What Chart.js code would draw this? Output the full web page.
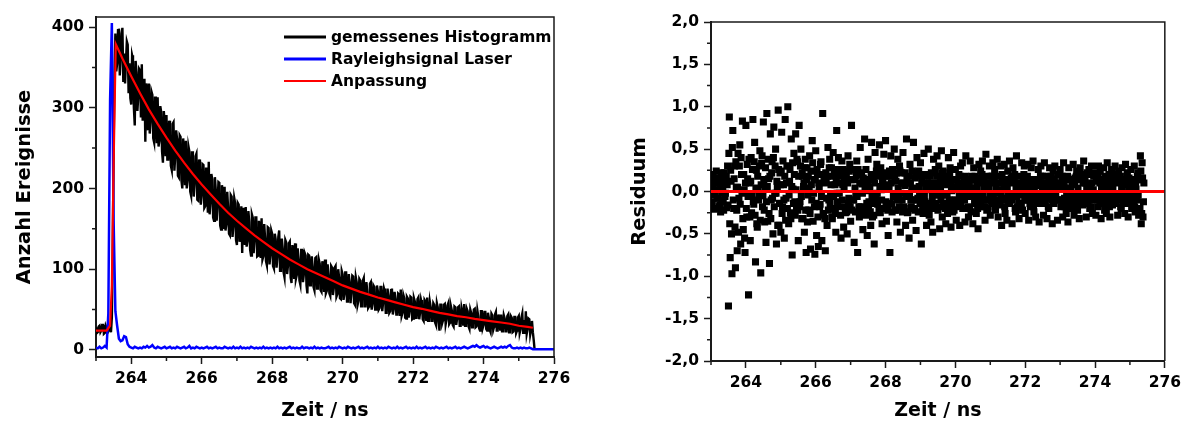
<!DOCTYPE html>
<html lang="de">
<head>
<meta charset="utf-8">
<title>Histogramm und Residuum</title>
<script src="https://cdn.jsdelivr.net/npm/chart.js@4.4.1/dist/chart.umd.min.js"></script>
<style>
  html, body { margin: 0; padding: 0; background: #fff; }
  .wrap { position: absolute; top: 0; height: 426px; }
  #left { left: 0; width: 600px; }
  #right { left: 600px; width: 587px; }
</style>
</head>
<body>
<div class="wrap" id="left"><canvas id="hist"></canvas></div>
<div class="wrap" id="right"><canvas id="resid"></canvas></div>
<script>
/* Fluoreszenz-Abklingkurve (links) und Residuen der Anpassung (rechts). */

// ── data ────────────────────────────────────────────────────────────────
// histogram channels are 25 ps wide; even and odd channels are kept apart
const histStep = 0.05;
const histEvenStart = 263.0;
const histEven = [
  28, 22, 30, 24, 31, 21, 27, 23, 29, 40, 250, 392,
  355, 398, 362, 399, 367, 330, 378, 355, 304, 360, 278, 344, 314, 346, 354, 295, 258, 322, 330, 284, 316, 257, 289, 313, 259, 295, 232, 280, 291,
  236, 267, 223, 282, 241, 262, 214, 264, 200, 240, 259, 210, 246, 191, 232, 207, 243, 185, 228, 191,
  229, 178, 206, 233, 183, 211, 160, 198, 179, 207, 149, 195, 202, 156, 176, 142, 190, 154, 182, 130,
  180, 148, 120, 169, 177, 135, 159, 117, 164, 136, 164, 117, 147, 163, 116, 138, 105, 151, 118, 144,
  101, 137, 116, 148, 99, 126, 90, 133, 105, 134, 83, 120, 132, 93, 112, 81, 124, 94, 117, 70,
  117, 88, 103, 74, 115, 90, 107, 72, 101, 112, 73, 92, 67, 102, 77, 104, 69, 90, 63, 94,
  69, 96, 62, 83, 72, 91, 56, 84, 61, 86, 65, 89, 54, 73, 54, 84, 57, 78, 50, 73,
  52, 78, 59, 72, 46, 67, 48, 76, 51, 63, 44, 69, 75, 46, 64, 39, 64, 48, 65, 39,
  60, 40, 65, 47, 57, 36, 60, 65, 39, 53, 36, 56, 31, 53, 24, 56, 37, 57, 38, 58,
  34, 49, 29, 53, 39, 54, 30, 46, 57, 31, 48, 26, 46, 31, 51, 29, 42, 24, 48, 31,
  47, 24, 40, 22, 43, 29, 47, 24, 36, 44, 25, 39, 23, 44, 28, 40, 23, 41, 24, 42,
  26, 45, 37, 48, 26, 38, 25, 22, 0
];
const histOddStart = 263.025;
const histOdd = [
  21, 29, 22, 31, 20, 30, 21, 28, 22, 120, 340,
  345, 396, 340, 392, 332, 330, 382, 318, 312, 365, 300, 358, 296, 348, 288, 284, 336, 330, 272,
  268, 320, 262, 314, 256, 252, 302, 246, 296, 240,
  236, 284, 228, 280, 222, 272, 216, 266, 210, 262, 204, 200, 252, 196, 246, 190, 240, 186, 236, 180,
  230, 176, 226, 170, 168, 218, 164, 214, 160, 208, 154, 204, 150, 148, 196, 144, 192, 140, 188, 136,
  182, 134, 178, 176, 130, 128, 172, 124, 168, 120, 164, 116, 160, 114, 112, 156, 110, 152, 106, 148,
  104, 144, 102, 140, 98, 138, 96, 136, 94, 132, 90, 130, 88, 88, 126, 86, 124, 84, 120, 80,
  118, 80, 116, 78, 114, 76, 112, 74, 110, 72, 70, 106, 70, 104, 68, 102, 66, 100, 64, 98,
  62, 96, 60, 94, 58, 92, 58, 90, 56, 88, 54, 86, 54, 84, 52, 82, 50, 80, 50, 80,
  50, 78, 48, 76, 46, 76, 46, 74, 44, 72, 44, 70, 42, 42, 68, 40, 66, 40, 66, 38,
  64, 40, 63, 38, 62, 38, 62, 36, 36, 60, 36, 58, 34, 58, 34, 56, 33, 56, 32, 55,
  32, 54, 31, 54, 31, 53, 30, 52, 30, 30, 51, 29, 50, 28, 50, 28, 49, 27, 48, 27,
  47, 26, 46, 25, 45, 25, 44, 24, 44, 24, 23, 43, 23, 42, 22, 42, 22, 41, 21, 40,
  21, 40, 20, 20, 20, 39, 19, 36, 12
];

const laserStart = 263.0;
const laserStep = 0.05;
const laserCounts = [
  3, 2, 4, 2, 3, 5, 3, 45, 310, 405, 160, 48, 30, 14, 11, 12, 17, 16, 7, 4,
  3, 2, 4, 3, 2, 3, 2, 4, 3, 5, 3, 4, 6, 3, 2, 4, 3, 2, 3, 4,
  2, 3, 4, 2, 3, 2, 4, 3, 2, 3, 4, 2, 3, 5, 2, 3, 2, 4, 3, 2,
  3, 2, 3, 4, 2, 3, 2, 3, 4, 2, 3, 2, 2, 4, 3, 2, 3, 2, 4, 2,
  3, 2, 4, 2, 3, 2, 3, 2, 4, 3, 2, 3, 2, 3, 2, 4, 2, 3, 2, 3,
  2, 3, 2, 4, 2, 3, 2, 3, 2, 3, 4, 2, 3, 2, 3, 2, 2, 4, 2, 3,
  3, 2, 3, 2, 4, 2, 3, 2, 3, 2, 2, 3, 4, 2, 3, 2, 3, 2, 4, 3,
  2, 3, 2, 4, 3, 2, 3, 2, 3, 4, 2, 3, 2, 3, 4, 2, 3, 2, 3, 2,
  4, 2, 3, 2, 3, 2, 4, 3, 2, 3, 2, 4, 2, 3, 2, 3, 4, 2, 3, 2,
  3, 2, 4, 2, 3, 2, 3, 4, 2, 3, 2, 3, 2, 4, 3, 2, 3, 2, 3, 4,
  2, 3, 2, 3, 4, 2, 3, 2, 3, 4, 3, 2, 3, 4, 5, 4, 6, 4, 3, 4,
  5, 3, 4, 3, 2, 3, 4, 3, 2, 3, 4, 3, 4, 3, 5, 6, 3, 2, 2, 3,
  2, 3, 2, 3, 2, 2, 3, 2, 1, 1, 1, 1, 1, 1, 1, 1, 1, 1, 1, 1,
  1
];

const fitTime = [
  263.0, 263.3, 263.4, 263.45, 263.5, 263.56, 263.75,
  264.0, 264.25, 264.5, 264.75, 265.0, 265.25, 265.5, 265.75, 266.0, 266.25, 266.5, 266.75,
  267.0, 267.25, 267.5, 267.75, 268.0, 268.25, 268.5, 268.75, 269.0, 269.25, 269.5, 269.75,
  270.0, 270.25, 270.5, 270.75, 271.0, 271.25, 271.5, 271.75, 272.0, 272.25, 272.5, 272.75,
  273.0, 273.25, 273.5, 273.75, 274.0, 274.25, 274.5, 274.75, 275.0, 275.25, 275.4
];
const fitValues = [
  24, 24, 30, 80, 230, 379, 361,
  339, 318, 298, 280, 263, 247, 232, 218, 205, 193, 181, 170,
  160, 151, 142, 134, 126, 119, 112, 106, 100, 95, 90, 85,
  80, 76, 72, 68.5, 65, 62, 59, 56, 53, 51, 48.5, 46,
  44, 42, 40.5, 38.5, 37, 35.5, 34, 32.5, 30, 28.5, 27.5
];

// residuals, same channel split
const residStep = 0.025;
const residEvenStart = 263.0;
const residEven = [
  -0.12, 0.18, 0.05, -0.21, 0.10, -0.03, 0.24, -0.08, 0.02, 0.15, -0.16, -0.24, 0.07, -0.01, -0.11, 0.22, -0.06, 0.12, -0.19, 0.30,
  -1.35, 0.88, -0.78, 0.12, -0.97, 0.72, -0.20, 0.30, -0.90, 0.05, -0.70, 0.45, -0.08, 0.55, -0.62, 0.20, 0.83, -0.45, 0.02, -0.72,
  0.78, -0.30, 0.15, -1.22, 0.10, -0.58, 0.40, -0.05, 0.85, -0.15, 0.58, -0.83, 0.25, -0.42, 0.02, -0.05, 0.48, -0.96, 0.33, -0.18,
  0.82, -0.22, 0.04, -0.60, 0.92, -0.35, 0.15, -0.85, 0.68, -0.10, 0.35, -0.50, 0.76, -0.02, 0.50, -0.62, 0.05, 0.96, -0.40, 0.22,
  -0.48, 0.70, -0.18, 0.08, -0.55, 0.85, -0.08, 0.30, 1.00, -0.38, 0.12, -0.25, 0.62, -0.75, 0.03, 0.45, -0.12, 0.68, -0.20, 0.35,
  -0.58, 0.78, -0.12, 0.50, -0.32, 0.18, 0.06, -0.48, 0.38, -0.72, 0.28, -0.04, -0.22, 0.42, -0.68, 0.08, 0.60, -0.35, 0.14, -0.74,
  0.48, -0.52, 0.20, -0.65, 0.03, -0.15, 0.35, -0.58, 0.92, -0.28, 0.10, -0.70, 0.15, -0.40, 0.52, -0.10, 0.38, -0.06, 0.28, -0.32,
  0.46, -0.20, 0.08, -0.48, 0.72, -0.12, 0.40, -0.02, 0.22, -0.55, 0.36, 0.08, -0.42, 0.12, -0.25, 0.18, -0.50, 0.42, -0.08, 0.32,
  -0.35, 0.78, -0.10, 0.26, -0.60, 0.04, -0.05, 0.36, -0.72, 0.20, -0.30, 0.52, -0.18, 0.09, -0.45, 0.12, 0.62, -0.28, 0.01, -0.52,
  0.38, -0.12, 0.05, -0.40, 0.58, -0.30, 0.15, -0.62, 0.46, -0.08, 0.32, -0.15, 0.20, 0.55, -0.25, 0.02, -0.38, 0.10, 0.44, -0.20,
  0.60, -0.35, 0.18, -0.52, 0.04, -0.72, 0.42, -0.15, 0.26, -0.06, 0.50, -0.22, 0.12, -0.36, 0.38, -0.05, 0.30, -0.48, 0.22, -0.10,
  0.46, -0.18, 0.07, -0.40, 0.62, -0.25, 0.10, -0.55, 0.32, -0.10, 0.03, -0.34, 0.58, -0.20, 0.16, -0.46, 0.40, -0.08, 0.24, -0.02,
  0.34, -0.62, 0.20, -0.26, 0.45, -0.12, 0.05, -0.40, 0.18, 0.50, -0.28, 0.02, -0.36, 0.10, -0.48, 0.38, -0.15, 0.26, -0.04, 0.42,
  -0.22, 0.30, -0.44, 0.06, 0.48, -0.30, 0.24, -0.18, 0.08, -0.38, 0.12, -0.26, 0.40, -0.10, 0.28, -0.42, 0.01, -0.24, 0.46, -0.14,
  0.26, -0.34, 0.05, -0.16, 0.20, -0.40, 0.30, -0.08, 0.34, -0.02, 0.14, -0.36, 0.42, -0.20, 0.06, -0.30, 0.08, 0.36, -0.24, 0.18,
  -0.38, 0.28, -0.12, 0.04, -0.26, 0.16, -0.44, 0.32, -0.06, 0.24, -0.03, 0.36, -0.18, 0.12, -0.34, 0.44, -0.22, 0.09, -0.10, 0.30,
  -0.28, 0.18, -0.05, 0.34, -0.14, 0.26, -0.22, 0.10, 0.38, -0.30, 0.02, -0.16, 0.30, -0.40, 0.14, -0.08, 0.32, -0.26, 0.04, -0.34,
  0.24, -0.12, 0.36, -0.03, 0.16, -0.38, 0.28, -0.06, 0.20, -0.24, 0.42, -0.18, 0.10, -0.32, 0.05, -0.14, 0.34, -0.22, 0.12, 0.30,
  -0.26, 0.16, -0.10, 0.32, -0.34, 0.02, -0.18, 0.28, -0.06, 0.36, -0.24, 0.12, -0.30, 0.07, -0.14, 0.26, -0.36, 0.08, 0.30, -0.04,
  0.18, -0.28, 0.34, -0.12, 0.03, -0.32, 0.10, -0.20, 0.28, -0.08, 0.16, -0.38, 0.24, -0.14, 0.30, -0.02, 0.06, -0.34, 0.20, -0.10,
  0.26, -0.18, 0.12, -0.30, 0.34, -0.08, 0.04, -0.26, 0.14, -0.36, 0.28, -0.12, 0.01, -0.20, 0.08, 0.32, -0.28, 0.16, -0.10, 0.24,
  -0.22, 0.14, -0.32, 0.28, -0.06, 0.20, -0.16, 0.36, -0.03, 0.10, -0.30, 0.22, -0.12, 0.26, -0.20, 0.08, 0.30, -0.26, 0.02, -0.08,
  0.22, -0.28, 0.12, -0.18, 0.30, -0.10, 0.24, -0.32, 0.05, -0.06, 0.28, -0.22, 0.10, -0.26, 0.34, -0.01, 0.20, -0.30, 0.06, 0.26,
  -0.16, 0.20, -0.04, 0.30, -0.10, 0.14, -0.28, 0.24, -0.06, 0.18, -0.20, 0.28, -0.14, 0.08, -0.26, 0.32, -0.02, 0.22, -0.30, 0.16,
  -0.08, 0.26, -0.20, 0.12, -0.16, 0.30, -0.24, 0.03, -0.10, 0.22, -0.28, 0.14, 0.42, -0.38, 0.34, -0.30, 0.10
];
const residOddStart = 263.0125;
const residOdd = [
  0.10, -0.14, 0.20, -0.04, 0.16, -0.20, 0.02, 0.12, -0.08, -0.18, 0.06, 0.22, -0.12, 0.04, -0.22, 0.14, -0.02, 0.18, 0.08, -0.16,
  0.45, -0.38, 0.25, -0.50, 0.52, -0.10, 0.15, -0.42, 0.35, -0.22, 0.05, -0.48, 0.30, -0.15, 0.40, -0.02, -0.32, 0.20, -0.55, 0.10,
  -0.20, 0.32, -0.06, 0.38, -0.30, 0.12, -0.25, 0.26, -0.12, 0.35, -0.28, 0.04, -0.38, 0.18, -0.10, 0.30, -0.34, 0.08, 0.42, -0.05,
  0.14, -0.36, 0.28, -0.12, 0.06, 0.38, -0.26, 0.18, -0.32, 0.22, -0.08, 0.40, -0.18, 0.30, -0.02, 0.12, -0.40, 0.26, -0.14, 0.08,
  0.24, -0.26, 0.36, -0.10, 0.18, -0.34, 0.10, -0.20, 0.30, -0.04, 0.26, -0.32, 0.06, 0.34, -0.14, 0.20, -0.28, 0.02, 0.38, -0.22,
  0.18, -0.18, 0.30, -0.06, 0.22, -0.32, 0.10, 0.28, -0.22, 0.14, -0.36, 0.18, 0.04, -0.26, 0.24, -0.10, 0.34, -0.02, -0.18, 0.14,
  -0.14, 0.26, -0.30, 0.10, -0.18, 0.32, -0.06, 0.20, -0.26, 0.14, -0.32, 0.22, -0.08, 0.18, -0.22, 0.28, -0.14, 0.08, -0.30, 0.18,
  -0.06, 0.22, -0.26, 0.14, -0.02, 0.26, -0.18, 0.10, -0.28, 0.18, -0.10, 0.26, 0.04, -0.18, 0.22, -0.24, 0.10, -0.14, 0.24, -0.18,
  0.14, -0.22, 0.26, -0.10, 0.14, -0.24, 0.18, -0.06, 0.26, -0.18, 0.10, -0.26, 0.22, -0.02, 0.16, -0.22, 0.06, 0.26, -0.14, 0.10,
  -0.18, 0.14, -0.24, 0.20, -0.06, 0.18, -0.28, 0.10, -0.14, 0.24, -0.02, 0.18, -0.22, 0.06, 0.28, -0.10, 0.14, -0.20, 0.04, 0.22,
  -0.12, 0.18, -0.22, 0.08, 0.24, -0.14, 0.10, -0.24, 0.18, -0.06, 0.14, -0.22, 0.22, -0.10, 0.04, -0.18, 0.24, -0.02, 0.10, -0.24,
  0.10, -0.20, 0.22, -0.06, 0.14, -0.24, 0.18, -0.04, 0.10, -0.18, 0.24, -0.10, 0.04, -0.22, 0.18, -0.10, 0.22, -0.24, 0.06, -0.14,
  -0.10, 0.14, -0.22, 0.10, -0.06, 0.20, -0.18, 0.10, -0.22, 0.04, 0.18, -0.14, 0.22, -0.06, 0.10, -0.20, 0.06, -0.14, 0.18, -0.04,
  0.10, -0.18, 0.14, -0.10, 0.22, -0.04, -0.14, 0.10, -0.20, 0.14, -0.04, 0.18, -0.14, 0.22, -0.18, 0.06, -0.10, 0.14, -0.22, 0.04,
  -0.10, 0.14, -0.18, 0.06, -0.04, 0.18, -0.14, 0.10, -0.20, 0.04, -0.10, 0.18, -0.06, 0.14, -0.18, 0.10, -0.20, 0.02, 0.14, -0.06,
  0.14, -0.06, 0.18, -0.14, 0.06, -0.20, 0.10, -0.04, 0.14, -0.14, 0.20, -0.06, 0.04, -0.18, 0.10, -0.10, 0.18, -0.20, 0.06, -0.04,
  0.10, -0.14, 0.18, -0.06, 0.14, -0.18, 0.04, -0.10, 0.18, -0.02, -0.14, 0.10, -0.06, 0.20, -0.10, 0.06, -0.18, 0.14, -0.10, 0.06,
  -0.06, 0.14, -0.14, 0.10, -0.10, 0.18, -0.04, 0.14, -0.20, 0.06, -0.06, 0.18, -0.14, 0.04, 0.10, -0.18, 0.06, -0.04, 0.20, -0.10,
  0.06, -0.10, 0.18, -0.04, 0.10, -0.14, 0.06, -0.10, 0.14, -0.18, 0.04, 0.14, -0.10, 0.10, -0.06, 0.14, -0.14, 0.18, -0.06, 0.04,
  -0.04, 0.10, -0.14, 0.18, -0.06, 0.06, -0.18, 0.14, -0.02, 0.18, -0.10, 0.06, -0.14, 0.14, -0.04, 0.10, -0.10, 0.20, -0.10, 0.04,
  0.06, -0.10, 0.18, -0.14, 0.06, -0.18, 0.14, -0.04, 0.18, -0.14, 0.04, -0.06, 0.14, -0.18, 0.10, -0.04, 0.10, -0.14, 0.18, -0.06,
  0.04, -0.14, 0.14, -0.06, 0.18, -0.04, 0.10, -0.14, 0.14, -0.10, 0.06, -0.04, 0.20, -0.10, 0.06, -0.18, 0.10, -0.06, 0.18, -0.10,
  -0.06, 0.14, -0.04, 0.18, -0.10, 0.10, -0.14, 0.06, -0.10, 0.14, -0.04, 0.18, -0.14, 0.04, -0.06, 0.14, -0.18, 0.10, -0.10, 0.04,
  0.06, -0.06, 0.14, -0.14, 0.18, -0.04, 0.10, -0.10, 0.18, -0.18, 0.04, -0.06, 0.14, -0.10, 0.10, -0.04, 0.18, -0.10, 0.06, -0.14,
  0.10, -0.04, 0.14, -0.10, 0.06, -0.18, 0.10, -0.06, 0.18, -0.04, 0.14, -0.20, 0.24, -0.26, 0.16, -0.12
];

// axis ticks
const timeTicks = [264, 266, 268, 270, 272, 274, 276];
const timeMinor = [263, 265, 267, 269, 271, 273, 275];
const countTicks = [0, 100, 200, 300, 400];
const countMinor = [50, 150, 250, 350];
const residTicks = [-2, -1.5, -1, -0.5, 0, 0.5, 1, 1.5, 2];
const residMinor = [-1.75, -1.25, -0.75, -0.25, 0.25, 0.75, 1.25, 1.75];

// ── helpers ─────────────────────────────────────────────────────────────
const INK = "#1a1a1a";
const FONT = "'DejaVu Sans', sans-serif";

function series(start, step, values) {
  return values.map((v, i) => ({ x: +(start + i * step).toFixed(4), y: v }));
}
function pairs(xs, ys) {
  return xs.map((x, i) => ({ x, y: ys[i] }));
}
/* put even and odd channels back in time order */
function merged(a, b) {
  return a.concat(b).sort((p, q) => p.x - q.x);
}
const deComma = (v) => v.toFixed(1).replace(".", ",");

/* fixed axis box sizes so both plot frames land where the original has them */
const fixWidth = (w) => (s) => { s.width = w; };
const fixHeight = (h) => (s) => { s.height = h; };
const useTicks = (list) => (s) => { s.ticks = list.map((v) => ({ value: v })); };

const tickFont = { family: FONT, size: 15.5, weight: "bold" };
const titleFont = { family: FONT, size: 19.5, weight: "bold" };

function axisStyle(extra) {
  return Object.assign({
    type: "linear",
    border: { display: true, color: INK, width: 2 },
    grid: { drawOnChartArea: false, drawTicks: true, tickLength: 7, tickWidth: 1.5, tickColor: INK },
  }, extra);
}

// ── plugins: frame, minor ticks, inline legend ──────────────────────────
const frame = {
  id: "frame",
  afterDraw(chart) {
    const { ctx, chartArea: a } = chart;
    ctx.save();
    ctx.strokeStyle = INK;
    ctx.lineWidth = 1.5;
    ctx.beginPath();
    ctx.moveTo(a.left, a.top);
    ctx.lineTo(a.right, a.top);
    ctx.lineTo(a.right, a.bottom);
    ctx.stroke();
    ctx.restore();
  },
};

const minorTicks = {
  id: "minorTicks",
  afterDraw(chart, args, opts) {
    const { ctx, chartArea: a, scales } = chart;
    ctx.save();
    ctx.strokeStyle = INK;
    ctx.lineWidth = 1.5;
    ctx.beginPath();
    (opts.x || []).forEach((v) => {
      const px = scales.x.getPixelForValue(v);
      ctx.moveTo(px, a.bottom);
      ctx.lineTo(px, a.bottom + opts.length);
    });
    (opts.y || []).forEach((v) => {
      const py = scales.y.getPixelForValue(v);
      ctx.moveTo(a.left, py);
      ctx.lineTo(a.left - opts.length, py);
    });
    ctx.stroke();
    ctx.restore();
  },
};

const lineLegend = {
  id: "lineLegend",
  afterDraw(chart, args, opts) {
    if (!opts.show) return;
    const { ctx } = chart;
    ctx.save();
    ctx.font = `bold ${opts.size}px ${FONT}`;
    ctx.textBaseline = "middle";
    ctx.fillStyle = "#000";
    chart.data.datasets.forEach((ds, i) => {
      const y = opts.top + i * opts.rowGap;
      ctx.strokeStyle = ds.borderColor;
      ctx.lineWidth = ds.legendWidth || ds.borderWidth;
      ctx.beginPath();
      ctx.moveTo(opts.left, y);
      ctx.lineTo(opts.left + opts.sample, y);
      ctx.stroke();
      ctx.fillText(ds.label, opts.left + opts.sample + 5, y + 1);
    });
    ctx.restore();
  },
};

Chart.defaults.animation = false;
Chart.defaults.responsive = true;
Chart.defaults.maintainAspectRatio = false;
Chart.defaults.plugins.legend.display = false;
Chart.defaults.plugins.tooltip.enabled = false;

// ── left: histogram, laser, fit ─────────────────────────────────────────
new Chart(document.getElementById("hist"), {
  type: "line",
  data: {
    datasets: [
      { label: "gemessenes Histogramm",
        data: merged(series(histEvenStart, histStep, histEven), series(histOddStart, histStep, histOdd)),
        borderColor: "#000000", borderWidth: 2.4, legendWidth: 3, order: 3 },
      { label: "Rayleighsignal Laser", data: series(laserStart, laserStep, laserCounts),
        borderColor: "#0000ff", borderWidth: 2.5, legendWidth: 3, order: 2 },
      { label: "Anpassung", data: pairs(fitTime, fitValues),
        borderColor: "#ff0000", borderWidth: 2.2, legendWidth: 2, order: 1 },
    ],
  },
  options: {
    layout: { padding: { left: 0, right: 46, top: 17, bottom: 0 } },
    elements: { point: { radius: 0 }, line: { tension: 0 } },
    plugins: {
      minorTicks: { x: timeMinor, y: countMinor, length: 4 },
      lineLegend: { show: true, left: 284, top: 37, rowGap: 22, sample: 42, size: 15.5 },
    },
    scales: {
      x: axisStyle({
        min: 263, max: 276,
        afterBuildTicks: useTicks(timeTicks),
        afterFit: fixHeight(69),
        ticks: { color: "#000", padding: 6, maxRotation: 0, font: tickFont },
        title: { display: true, text: "Zeit / ns", color: "#000", padding: { top: 0, bottom: 4 },
                 font: { family: FONT, size: 19, weight: "bold" } },
      }),
      y: axisStyle({
        min: -8.7, max: 412.4,
        afterBuildTicks: useTicks(countTicks),
        afterFit: fixWidth(96),
        ticks: { color: "#000", padding: 5, font: tickFont },
        title: { display: true, text: "Anzahl Ereignisse", color: "#000", padding: { top: 13, bottom: 0 },
                 font: titleFont },
      }),
    },
  },
  plugins: [frame, minorTicks, lineLegend],
});

// ── right: residuals ────────────────────────────────────────────────────
new Chart(document.getElementById("resid"), {
  type: "scatter",
  data: {
    datasets: [
      { label: "Residuum",
        data: merged(series(residEvenStart, residStep, residEven), series(residOddStart, residStep, residOdd)),
        pointStyle: "rect", pointRadius: 5, pointBorderWidth: 0,
        backgroundColor: "#000000", borderColor: "#000000", showLine: false, order: 2 },
      { label: "Null", data: pairs([263, 276], [0, 0]),
        showLine: true, pointRadius: 0, borderColor: "#ff0000", borderWidth: 3, order: 1 },
    ],
  },
  options: {
    layout: { padding: { left: 0, right: 18, top: 22, bottom: 0 } },
    plugins: {
      minorTicks: { x: timeMinor, y: residMinor, length: 4 },
      lineLegend: { show: false },
    },
    scales: {
      x: axisStyle({
        min: 263, max: 276,
        afterBuildTicks: useTicks(timeTicks),
        afterFit: fixHeight(65),
        ticks: { color: "#000", padding: 6, maxRotation: 0, font: tickFont },
        title: { display: true, text: "Zeit / ns", color: "#000", padding: { top: 0, bottom: 4 },
                 font: { family: FONT, size: 19, weight: "bold" } },
      }),
      y: axisStyle({
        min: -2, max: 2,
        afterBuildTicks: useTicks(residTicks),
        afterFit: fixWidth(111),
        ticks: { color: "#000", padding: 5, callback: deComma, font: tickFont },
        title: { display: true, text: "Residuum", color: "#000", padding: { top: 28, bottom: 0 },
                 font: titleFont },
      }),
    },
  },
  plugins: [frame, minorTicks, lineLegend],
});
</script>
</body>
</html>
